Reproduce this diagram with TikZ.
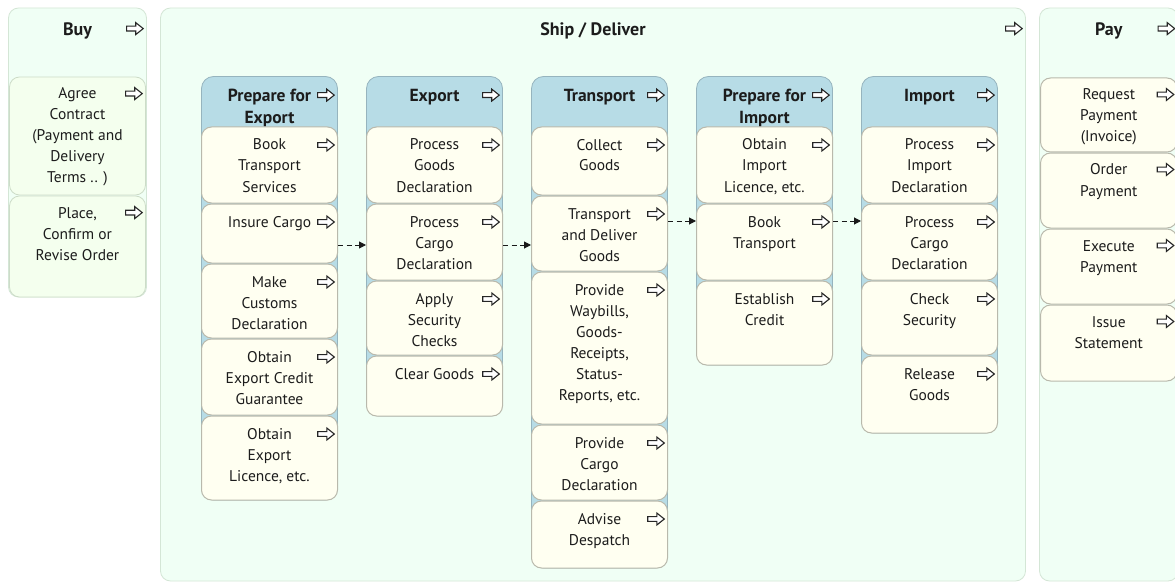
\documentclass[tikz,border=0pt]{standalone}
\usepackage{fontspec}
\setmainfont{PT Sans}
\usetikzlibrary{calc,arrows.meta}
\definecolor{outerfill}{RGB}{240,255,245}
\definecolor{outerline}{RGB}{212,230,214}
\definecolor{buysubfill}{RGB}{244,255,238}
\definecolor{buysubline}{RGB}{205,220,200}
\definecolor{colfill}{RGB}{183,220,230}
\definecolor{colline}{RGB}{150,180,190}
\definecolor{subfill}{RGB}{255,255,241}
\definecolor{subline}{RGB}{185,185,172}
\definecolor{textcol}{RGB}{28,28,28}
\newcommand\topbox[4]{\parbox[c][#2][t]{#1}{\centering\rule{0pt}{#3}#4\par}}
\newcommand\mkbox[9]{%
  \node[#1] (#2) at ({(#3+#4)/2},{(#5+#6)/2})
    {\topbox{\dimexpr#4pt-#3pt\relax}{\dimexpr#6pt-#5pt\relax}{#7pt}{#9}};
  \pic at ($(#2.north east)+(-12,#8)$) {harrow};}
\tikzset{
  harrow/.pic={\draw[line width=1.1pt, fill=white, draw=black!85, line join=miter]
    (-8.3,-2.4) -- (0.8,-2.4) -- (0.8,-6) -- (8.3,0) -- (0.8,6) -- (0.8,2.4) -- (-8.3,2.4) -- cycle;},
  outerbox/.style={draw=outerline, fill=outerfill, line width=0.8pt, rounded corners=10pt,
    inner sep=0pt, text=textcol, font=\fontsize{18}{22}\selectfont\bfseries},
  buysub/.style={draw=buysubline, fill=buysubfill, line width=0.8pt, rounded corners=10pt,
    inner sep=0pt, text=textcol, font=\fontsize{15.5}{21}\selectfont},
  colbox/.style={draw=colline, fill=colfill, line width=0.8pt, rounded corners=12pt,
    inner sep=0pt, text=textcol, font=\fontsize{17.5}{22}\selectfont\bfseries},
  subbox/.style={draw=subline, fill=subfill, line width=1pt, rounded corners=10pt,
    inner sep=0pt, text=textcol, font=\fontsize{15.5}{21}\selectfont},
  paysub/.style={subbox},
  conn/.style={draw=black!90, line width=1pt, dash pattern=on 5pt off 3.5pt,
    -{Triangle[length=7pt,width=7pt]}}
}
\begin{document}
\begin{tikzpicture}[x=1pt,y=-1pt]
\useasboundingbox[fill=white] (0,0) rectangle (1175,583);
% outer columns
\mkbox{outerbox}{buy}{8.5}{146.5}{8}{297}{27.5}{21}{Buy}
\mkbox{outerbox}{ship}{160.5}{1025.5}{8}{581}{27.5}{21}{Ship / Deliver}
\mkbox{outerbox}{pay}{1039.5}{1178}{8}{581}{27.5}{21}{Pay}
% Buy
\mkbox{buysub}{agree}{9.5}{145.5}{77}{195}{22}{17}{Agree\\Contract\\(Payment and\\Delivery\\Terms .. )}
\mkbox{buysub}{place}{9.5}{145.5}{196}{297}{22}{17}{Place,\\Confirm or\\Revise Order}
% Pay
\mkbox{paysub}{request}{1040.5}{1177}{78}{152}{22}{17}{Request\\Payment\\(Invoice)}
\mkbox{paysub}{order}{1040.5}{1177}{153}{228}{22}{17}{Order\\Payment}
\mkbox{paysub}{execute}{1040.5}{1177}{229}{304}{22}{17}{Execute\\Payment}
\mkbox{paysub}{issue}{1040.5}{1177}{305}{381}{22}{17}{Issue\\Statement}
% inner columns
\mkbox{colbox}{pfe}{201.5}{337.5}{76.5}{500}{25}{19}{Prepare for\\Export}
\mkbox{colbox}{exp}{366.5}{502.5}{76.5}{416}{25}{19}{Export}
\mkbox{colbox}{trn}{531.5}{667.5}{76.5}{568}{25}{19}{Transport}
\mkbox{colbox}{pfi}{696.5}{832.5}{76.5}{365}{25}{19}{Prepare for\\Import}
\mkbox{colbox}{imp}{861.5}{997.5}{76.5}{433}{25}{19}{Import}
% Prepare for Export
\mkbox{subbox}{booktr}{201.5}{337.5}{127}{203}{23}{18.5}{Book\\Transport\\Services}
\mkbox{subbox}{insure}{201.5}{337.5}{204}{263}{23}{18.5}{Insure Cargo}
\mkbox{subbox}{customs}{201.5}{337.5}{264}{338}{23}{18.5}{Make\\Customs\\Declaration}
\mkbox{subbox}{credit}{201.5}{337.5}{339}{415}{23}{18.5}{Obtain\\Export Credit\\Guarantee}
\mkbox{subbox}{explic}{201.5}{337.5}{416}{500}{23}{18.5}{Obtain\\Export\\Licence, etc.}
% Export
\mkbox{subbox}{goodsdecl}{366.5}{502.5}{127}{203}{23}{18.5}{Process\\Goods\\Declaration}
\mkbox{subbox}{expcargo}{366.5}{502.5}{204}{280}{23}{18.5}{Process\\Cargo\\Declaration}
\mkbox{subbox}{security}{366.5}{502.5}{281}{355}{23}{18.5}{Apply\\Security\\Checks}
\mkbox{subbox}{clear}{366.5}{502.5}{356}{416}{23}{18.5}{Clear Goods}
% Transport
\mkbox{subbox}{collect}{531.5}{667.5}{127}{195}{23}{18.5}{Collect\\Goods}
\mkbox{subbox}{deliver}{531.5}{667.5}{196}{271}{23}{18.5}{Transport\\and Deliver\\Goods}
\mkbox{subbox}{waybills}{531.5}{667.5}{272}{424}{23}{18.5}{Provide\\Waybills,\\Goods-\\Receipts,\\Status-\\Reports, etc.}
\mkbox{subbox}{trcargo}{531.5}{667.5}{425}{500}{23}{18.5}{Provide\\Cargo\\Declaration}
\mkbox{subbox}{despatch}{531.5}{667.5}{501}{568}{23}{18.5}{Advise\\Despatch}
% Prepare for Import
\mkbox{subbox}{implic}{696.5}{832.5}{127}{203}{23}{18.5}{Obtain\\Import\\Licence, etc.}
\mkbox{subbox}{pfibook}{696.5}{832.5}{204}{280}{23}{18.5}{Book\\Transport}
\mkbox{subbox}{estcredit}{696.5}{832.5}{281}{365}{23}{18.5}{Establish\\Credit}
% Import
\mkbox{subbox}{impdecl}{861.5}{997.5}{127}{203}{23}{18.5}{Process\\Import\\Declaration}
\mkbox{subbox}{impcargo}{861.5}{997.5}{204}{280}{23}{18.5}{Process\\Cargo\\Declaration}
\mkbox{subbox}{checksec}{861.5}{997.5}{281}{355}{23}{18.5}{Check\\Security}
\mkbox{subbox}{release}{861.5}{997.5}{356}{433}{23}{18.5}{Release\\Goods}
% connectors
\draw[conn] ([yshift=-11.5pt]insure.east) -- ([yshift=-3pt]expcargo.west);
\draw[conn] ([yshift=-3pt]expcargo.east) -- ([yshift=-11.5pt]deliver.west);
\draw[conn] ([yshift=12.5pt]deliver.east) -- ([yshift=21pt]pfibook.west);
\draw[conn] ([yshift=21pt]pfibook.east) -- ([yshift=21pt]impcargo.west);
\end{tikzpicture}
\end{document}
